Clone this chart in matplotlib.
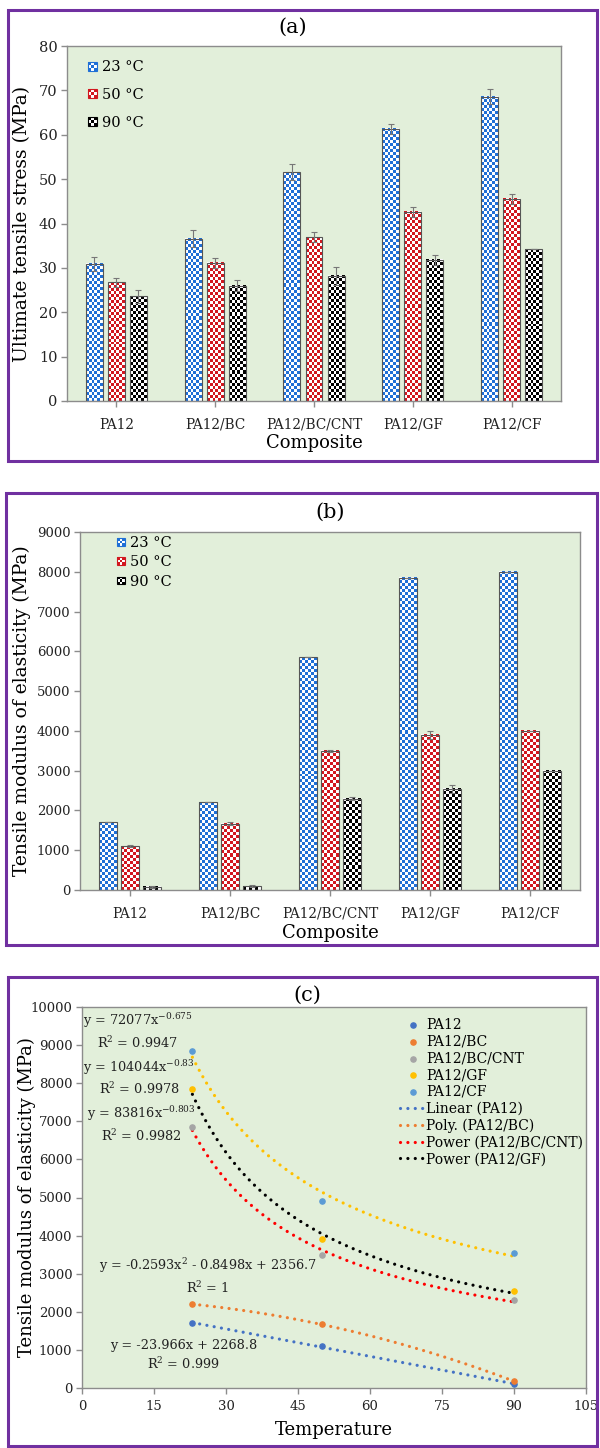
import numpy as np
import matplotlib
matplotlib.use('Agg')
import matplotlib.pyplot as plt
from matplotlib.patches import Rectangle, Patch
from matplotlib.legend_handler import HandlerBase
from matplotlib.colors import to_rgb

plt.rcParams['font.family'] = ['DejaVu Serif']
plt.rcParams['mathtext.fontset'] = 'dejavuserif'

# ---- data ----
composites = ['PA12', 'PA12/BC', 'PA12/BC/CNT', 'PA12/GF', 'PA12/CF']
temp_labels = ['23 °C', '50 °C', '90 °C']

uts_23 = [30.9, 36.6, 51.6, 61.3, 68.6]
uts_50 = [26.8, 31.1, 36.9, 42.6, 45.6]
uts_90 = [23.6, 26.0, 28.2, 31.8, 34.2]
uts_err_23 = [1.5, 1.9, 1.8, 1.2, 1.7]
uts_err_50 = [1.0, 1.1, 1.1, 1.2, 1.1]
uts_err_90 = [1.5, 1.3, 2.0, 1.2, 0.0]

mod_23 = [1700, 2200, 5850, 7850, 8000]
mod_50 = [1100, 1670, 3500, 3900, 4000]
mod_90 = [80, 100, 2300, 2550, 3000]
mod_err_23 = [0, 0, 0, 0, 0]
mod_err_50 = [30, 30, 30, 100, 0]
mod_err_90 = [20, 20, 50, 100, 0]

temps = [23, 50, 90]
pts_pa12 = [1700, 1100, 100]
pts_bc = [2200, 1670, 180]
pts_cnt = [6850, 3500, 2300]
pts_gf = [7850, 3900, 2550]
pts_cf = [8850, 4900, 3550]

# trendline coefficients as printed on the chart
lin_pa12 = [-23.966, 2268.8]
poly_bc = [-0.2593, -0.8498, 2356.7]
pow_cnt = [83816, -0.803]
pow_gf = [104044, -0.83]
pow_cf = [72077, -0.675]

W, H = 600, 1448
bar_colors = ['#1f6fd6', '#d2171f', '#000000']
bg = '#e2efda'
spine_c = '#8c8c8c'
purple = '#7030a0'

fig = plt.figure(figsize=(W / 100, H / 100), dpi=100)


def add_px_axes(left, top, right, bottom):
    return fig.add_axes([left / W, 1 - bottom / H, (right - left) / W, (bottom - top) / H])


def add_frame(left, top, right, bottom):
    fig.add_artist(Rectangle((left / W, 1 - bottom / H), (right - left) / W, (bottom - top) / H,
                             transform=fig.transFigure, fill=False, edgecolor=purple, lw=2.2))


def style_axes(ax, fs_y, fs_x):
    ax.set_facecolor(bg)
    for s in ax.spines.values():
        s.set_color(spine_c)
        s.set_linewidth(1.0)
    ax.tick_params(axis='both', colors=spine_c, length=4, width=1.0)
    ax.tick_params(axis='y', labelsize=fs_y, labelcolor='#222222', pad=3)
    ax.tick_params(axis='x', labelsize=fs_x, labelcolor='#222222', pad=8)


def set_labels(ax, ylab, ypos, xlab, xpos, fs_y, fs_x):
    ax.set_ylabel(ylab, fontsize=fs_y, va='center')
    ax.yaxis.set_label_coords(ypos, 0.5)
    ax.set_xlabel(xlab, fontsize=fs_x, va='center')
    ax.xaxis.set_label_coords(0.5, xpos)


def checker_bars(ax, bars, color, ax_px, xlim, ylim, cell=3.0):
    sx = ax_px[0] / (xlim[1] - xlim[0])
    sy = ax_px[1] / (ylim[1] - ylim[0])
    rgb = to_rgb(color)
    for r in bars:
        x0, w, h = r.get_x(), r.get_width(), r.get_height()
        nx = max(1, int(round(w * sx / cell)))
        ny = max(1, int(round(h * sy / cell)))
        mask = np.add.outer(np.arange(ny), np.arange(nx)) % 2 == 0
        img = np.ones((ny, nx, 3))
        img[mask] = rgb
        ax.imshow(img, extent=(x0, x0 + w, 0, h), origin='lower',
                  interpolation='nearest', aspect='auto', zorder=2)


class CheckerHandler(HandlerBase):
    def __init__(self, color):
        super().__init__()
        self.color = color

    def create_artists(self, legend, orig_handle, xdescent, ydescent,
                       width, height, fontsize, trans):
        s = min(width, height)
        x0 = -xdescent
        y0 = -ydescent + (height - s) / 2
        c = s / 3
        arts = []
        for i in range(3):
            for j in range(3):
                fc = self.color if (i + j) % 2 == 0 else 'white'
                arts.append(Rectangle((x0 + i * c, y0 + j * c), c, c, facecolor=fc,
                                      edgecolor='none', transform=trans))
        arts.append(Rectangle((x0, y0), s, s, fill=False, edgecolor=self.color,
                              lw=0.8, transform=trans))
        return arts


def grouped_bars(ax, series, errs, ylim, ax_px, width, offset):
    x = np.arange(len(composites))
    xlim = (-0.5, len(composites) - 0.5)
    for k, (vals, err) in enumerate(zip(series, errs)):
        xs = x + (k - 1) * offset
        bars = ax.bar(xs, vals, width=width, facecolor='none', edgecolor='#555555',
                      lw=0.8, zorder=3)
        checker_bars(ax, bars, bar_colors[k], ax_px, xlim, ylim)
        ax.errorbar(xs, vals, yerr=err, fmt='none', ecolor='#777777', elinewidth=0.8,
                    capsize=2, capthick=0.8, zorder=4)
    ax.set_xlim(*xlim)
    ax.set_ylim(*ylim)
    ax.set_xticks(x)
    ax.set_xticklabels(composites)


def checker_legend(ax, anchor, spacing, hsize):
    handles = [Patch(label=t) for t in temp_labels]
    hmap = {h: CheckerHandler(c) for h, c in zip(handles, bar_colors)}
    ax.legend(handles=handles, handler_map=hmap, loc='upper left', bbox_to_anchor=anchor,
              frameon=False, fontsize=10.5, borderpad=0, borderaxespad=0,
              handlelength=hsize, handleheight=hsize, handletextpad=0.35,
              labelspacing=spacing)


# ---- (a) ultimate tensile stress ----
add_frame(8, 10, 597, 461)
fig.text(293 / W, 1 - 27 / H, '(a)', fontsize=15, ha='center', va='center')
ax_a = add_px_axes(67, 46, 561, 401)
style_axes(ax_a, 10.5, 9.8)
grouped_bars(ax_a, [uts_23, uts_50, uts_90], [uts_err_23, uts_err_50, uts_err_90],
             (0, 80), (494, 355), 0.172, 0.223)
ax_a.set_yticks(np.arange(0, 81, 10))
set_labels(ax_a, 'Ultimate tensile stress (MPa)', -0.091, 'Composite', -0.118, 13.5, 13)
checker_legend(ax_a, (0.042, 0.96), 0.95, 0.62)

# ---- (b) tensile modulus ----
add_frame(6, 493, 597, 945)
fig.text(330 / W, 1 - 512 / H, '(b)', fontsize=15, ha='center', va='center')
ax_b = add_px_axes(80, 532, 580, 890)
style_axes(ax_b, 9.5, 9.8)
grouped_bars(ax_b, [mod_23, mod_50, mod_90], [mod_err_23, mod_err_50, mod_err_90],
             (0, 9000), (500, 358), 0.175, 0.22)
ax_b.set_yticks(np.arange(0, 9001, 1000))
set_labels(ax_b, 'Tensile modulus of elasticity (MPa)', -0.116, 'Composite', -0.12, 13.5, 13)
checker_legend(ax_b, (0.074, 0.988), 0.35, 0.52)

# ---- (c) modulus vs temperature ----
add_frame(8, 977, 597, 1446)
fig.text(307 / W, 1 - 995 / H, '(c)', fontsize=15, ha='center', va='center')
ax_c = add_px_axes(82, 1007, 586, 1388)
style_axes(ax_c, 9.5, 9.5)
ax_c.tick_params(axis='x', pad=5)

point_series = [('PA12', pts_pa12, '#4472c4'), ('PA12/BC', pts_bc, '#ed7d31'),
                ('PA12/BC/CNT', pts_cnt, '#a5a5a5'), ('PA12/GF', pts_gf, '#ffc000'),
                ('PA12/CF', pts_cf, '#5b9bd5')]
handles = []
for name, vals, col in point_series:
    h = ax_c.scatter(temps, vals, s=14, color=col, zorder=4, label=name)
    handles.append(h)

t = np.linspace(temps[0], temps[-1], 200)
dot = dict(lw=2.3, linestyle=(0, (0.01, 2.3)), dash_capstyle='round', zorder=3)
trend_lines = [
    ('Linear (PA12)', np.polyval(lin_pa12, t), '#4472c4'),
    ('Poly. (PA12/BC)', np.polyval(poly_bc, t), '#ed7d31'),
    ('Power (PA12/BC/CNT)', pow_cnt[0] * t ** pow_cnt[1], '#ff0000'),
    ('Power (PA12/GF)', pow_gf[0] * t ** pow_gf[1], '#000000'),
]
for name, yv, col in trend_lines:
    ln, = ax_c.plot(t, yv, color=col, label=name, **dot)
    handles.append(ln)
ax_c.plot(t, pow_cf[0] * t ** pow_cf[1], color='#ffc000', **dot)

ax_c.set_xlim(0, 105)
ax_c.set_ylim(0, 10000)
ax_c.set_xticks(np.arange(0, 106, 15))
ax_c.set_yticks(np.arange(0, 10001, 1000))
set_labels(ax_c, 'Tensile modulus of elasticity (MPa)', -0.109, 'Temperature', -0.11, 13, 13)

ax_c.legend(handles=handles, loc='upper left', bbox_to_anchor=(0.631, 0.972),
            frameon=False, fontsize=10, borderpad=0, borderaxespad=0,
            handlelength=1.8, handletextpad=0.1, labelspacing=0.2, scatterpoints=1)

eq_kw = dict(fontsize=9.3, ha='center', va='center', multialignment='center',
             linespacing=1.35, color='#222222', zorder=5)
ax_c.text(11.6, 9370, 'y = 72077x$^{-0.675}$\nR$^2$ = 0.9947', **eq_kw)
ax_c.text(11.9, 8150, 'y = 104044x$^{-0.83}$\nR$^2$ = 0.9978', **eq_kw)
ax_c.text(12.4, 6930, 'y = 83816x$^{-0.803}$\nR$^2$ = 0.9982', **eq_kw)
ax_c.text(26.2, 2940, 'y = -0.2593x$^2$ - 0.8498x + 2356.7\nR$^2$ = 1', **eq_kw)
ax_c.text(21.2, 853, 'y = -23.966x + 2268.8\nR$^2$ = 0.999', **eq_kw)

fig.savefig('out.png', dpi=100, facecolor='white')
